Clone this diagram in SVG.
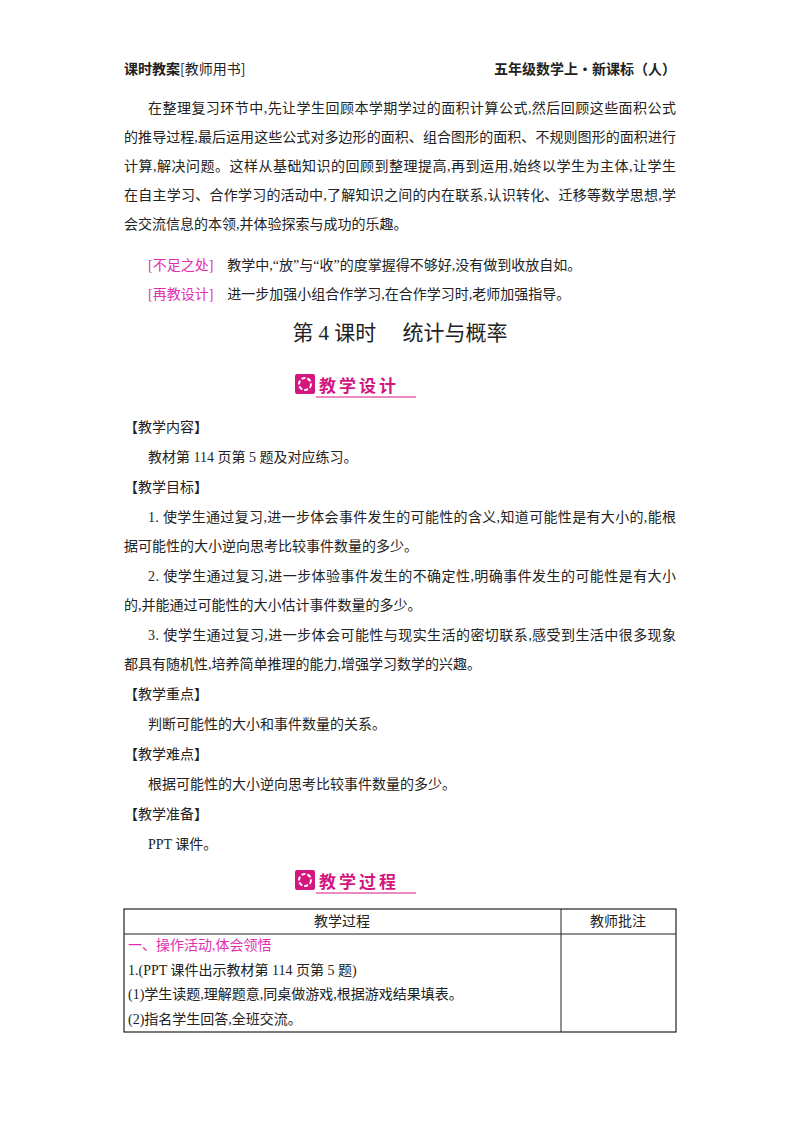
<svg xmlns="http://www.w3.org/2000/svg" width="800" height="1132" viewBox="0 0 800 1132">
<style>
text{font-family:"Liberation Serif","Noto Sans CJK SC",serif;font-size:14px;fill:#222}
.h{font-size:14px;font-weight:bold;font-family:"Noto Sans CJK SC",sans-serif}
.m{fill:#e030b0}
.t{font-size:21px}
.b{font-family:"Noto Sans CJK SC",sans-serif;font-weight:bold;font-size:17px;fill:#d4177f;letter-spacing:3px}
</style>
<rect width="800" height="1132" fill="#fff"/>
<text x="124" y="74" class="h">课时教案<tspan font-weight="normal">[教师用书]</tspan></text>
<text x="676" y="74" class="h" text-anchor="end">五年级数学上·新课标（人）</text>
<text x="148" y="113" textLength="528">在整理复习环节中,先让学生回顾本学期学过的面积计算公式,然后回顾这些面积公式</text>
<text x="124" y="142" textLength="552">的推导过程,最后运用这些公式对多边形的面积、组合图形的面积、不规则图形的面积进行</text>
<text x="124" y="171" textLength="552">计算,解决问题。这样从基础知识的回顾到整理提高,再到运用,始终以学生为主体,让学生</text>
<text x="124" y="200" textLength="552">在自主学习、合作学习的活动中,了解知识之间的内在联系,认识转化、迁移等数学思想,学</text>
<text x="124" y="229">会交流信息的本领,并体验探索与成功的乐趣。</text>
<text x="148" y="270"><tspan class="m">[不足之处]</tspan>　教学中,“放”与“收”的度掌握得不够好,没有做到收放自如。</text>
<text x="148" y="299"><tspan class="m">[再教设计]</tspan>　进一步加强小组合作学习,在合作学习时,老师加强指导。</text>
<text x="400" y="340" class="t" text-anchor="middle">第 4 课时　 统计与概率</text>
<g id="banner1">
<rect x="295" y="374" width="20" height="20" rx="2" fill="#d4177f"/>
<circle cx="305" cy="384" r="6" fill="none" stroke="#fff" stroke-width="2" stroke-dasharray="4 2"/>
<text x="319" y="392" class="b">教学设计</text>
<line x1="316" y1="397" x2="416" y2="397" stroke="#d4177f" stroke-width="1"/>
</g>
<text x="124" y="432">【教学内容】</text>
<text x="148" y="462">教材第 114 页第 5 题及对应练习。</text>
<text x="124" y="492">【教学目标】</text>
<text x="148" y="522" textLength="528">1. 使学生通过复习,进一步体会事件发生的可能性的含义,知道可能性是有大小的,能根</text>
<text x="124" y="551">据可能性的大小逆向思考比较事件数量的多少。</text>
<text x="148" y="581" textLength="528">2. 使学生通过复习,进一步体验事件发生的不确定性,明确事件发生的可能性是有大小</text>
<text x="124" y="610">的,并能通过可能性的大小估计事件数量的多少。</text>
<text x="148" y="640" textLength="528">3. 使学生通过复习,进一步体会可能性与现实生活的密切联系,感受到生活中很多现象</text>
<text x="124" y="669">都具有随机性,培养简单推理的能力,增强学习数学的兴趣。</text>
<text x="124" y="699">【教学重点】</text>
<text x="148" y="729">判断可能性的大小和事件数量的关系。</text>
<text x="124" y="759">【教学难点】</text>
<text x="148" y="789">根据可能性的大小逆向思考比较事件数量的多少。</text>
<text x="124" y="819">【教学准备】</text>
<text x="148" y="849">PPT 课件。</text>
<g id="banner2">
<rect x="295" y="870" width="20" height="20" rx="2" fill="#d4177f"/>
<circle cx="305" cy="880" r="6" fill="none" stroke="#fff" stroke-width="2" stroke-dasharray="4 2"/>
<text x="319" y="888" class="b">教学过程</text>
<line x1="316" y1="893" x2="416" y2="893" stroke="#d4177f" stroke-width="1"/>
</g>
<g id="table" stroke="#222" fill="none">
<rect x="124" y="909" width="552" height="123" stroke-width="1.2"/>
<line x1="561" y1="909" x2="561" y2="1032"/>
<line x1="124" y1="934" x2="676" y2="934"/>
</g>
<text x="342" y="926" text-anchor="middle">教学过程</text>
<text x="618" y="926" text-anchor="middle">教师批注</text>
<text x="128" y="950" class="m">一、操作活动,体会领悟</text>
<text x="128" y="975">1.(PPT 课件出示教材第 114 页第 5 题)</text>
<text x="128" y="999">(1)学生读题,理解题意,同桌做游戏,根据游戏结果填表。</text>
<text x="128" y="1024">(2)指名学生回答,全班交流。</text>
</svg>
